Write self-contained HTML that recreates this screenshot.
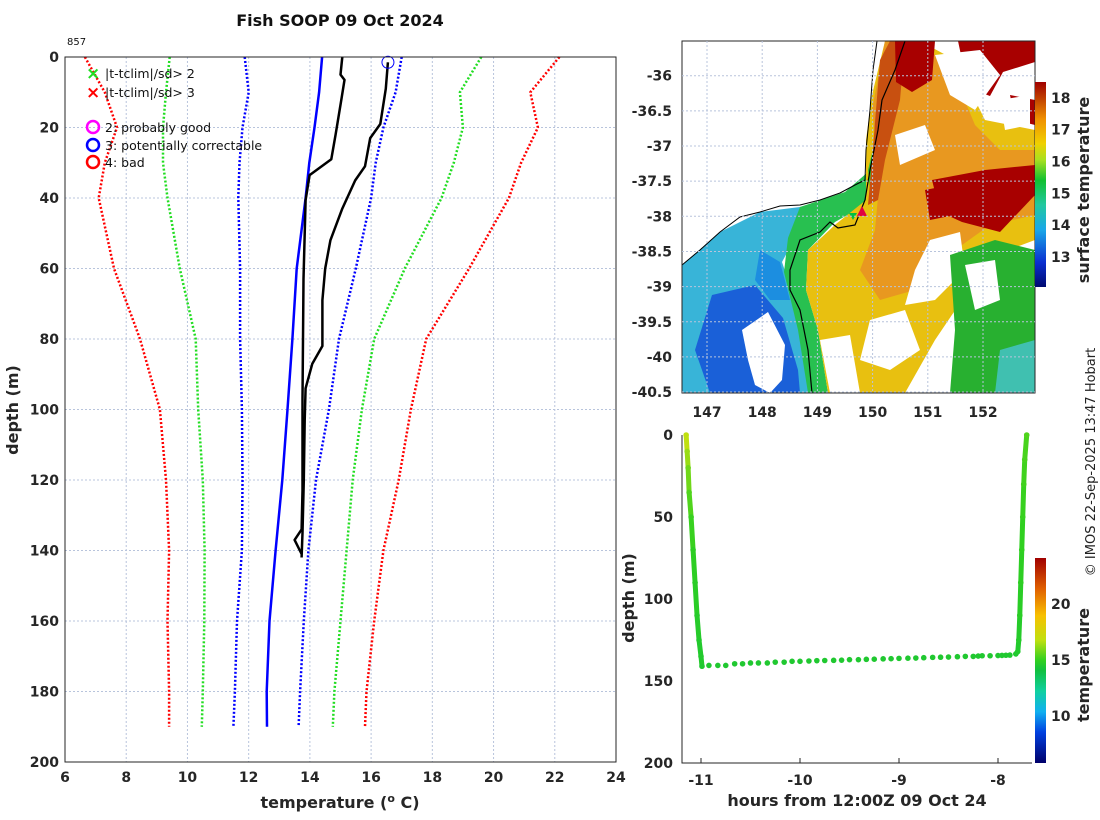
<!DOCTYPE html>
<html><head><meta charset="utf-8"><style>
body{margin:0;background:#fff;}
svg{display:block;font-family:"DejaVu Sans","Liberation Sans",sans-serif;}
.tk{font-size:14px;font-weight:bold;fill:#262626;}
.lab{font-size:16px;font-weight:bold;fill:#262626;}
.grid{stroke:#b8c4dc;stroke-width:1;stroke-dasharray:2,2;}
.leg{font-size:12.5px;fill:#111;}
</style></head><body>
<svg id="fig" width="1100" height="820" viewBox="0 0 1100 820">
<g id="main"></g>
<g id="map">
 <defs>
  <clipPath id="mapclip"><rect x="682" y="41" width="353" height="352"/></clipPath>
  <linearGradient id="sstcb" x1="0" y1="1" x2="0" y2="0">
   <stop offset="0" stop-color="#000a70"/><stop offset="0.12" stop-color="#0a2fd0"/><stop offset="0.28" stop-color="#1aa8e8"/><stop offset="0.4" stop-color="#22c8a0"/><stop offset="0.52" stop-color="#10c030"/><stop offset="0.62" stop-color="#a8e020"/><stop offset="0.7" stop-color="#f0d000"/><stop offset="0.82" stop-color="#f09000"/><stop offset="0.92" stop-color="#c04000"/><stop offset="1" stop-color="#a00000"/>
  </linearGradient>
  <linearGradient id="tcb" x1="0" y1="1" x2="0" y2="0">
   <stop offset="0" stop-color="#00006a"/><stop offset="0.15" stop-color="#0040e0"/><stop offset="0.25" stop-color="#10b0f0"/><stop offset="0.35" stop-color="#10d0a0"/><stop offset="0.45" stop-color="#10c040"/><stop offset="0.5" stop-color="#30d020"/><stop offset="0.6" stop-color="#c0e010"/><stop offset="0.72" stop-color="#f8c000"/><stop offset="0.85" stop-color="#e06000"/><stop offset="1" stop-color="#a00000"/>
  </linearGradient>
 </defs>
 <g clip-path="url(#mapclip)">
  <rect x="682" y="41" width="353" height="352" fill="#fff"/>
  <polygon fill="#38b4d8" points="682,265 720,232 760,212 800,207 840,196 855,200 820,218 795,238 782,262 792,292 804,330 812,393 682,393"/>
  <polygon fill="#1a60d8" points="712,295 755,285 783,318 798,370 800,393 710,393 695,350"/>
  <polygon fill="#1c8ee0" points="760,250 780,262 790,300 770,300 755,280"/>
  <polygon fill="#28c050" points="800,207 845,192 868,172 880,160 865,205 835,222 808,250 806,290 818,330 828,393 808,393 798,330 784,272 788,238"/>
  <polygon fill="#e8c010" points="866,140 872,95 885,41 920,41 955,60 985,120 1035,130 1035,240 995,255 962,300 935,340 905,393 828,393 818,330 806,290 808,250 836,224 866,200"/>
  <polygon fill="#e89820" points="872,110 885,41 920,41 952,70 975,125 1000,150 1035,150 1035,215 990,225 955,250 915,290 880,300 860,270 875,230 880,175"/>
  <polygon fill="#30c030" points="868,170 880,120 885,100 882,170 870,190"/>
  <polygon fill="#c85010" points="880,60 890,41 905,41 900,100 885,160 878,200 868,205 872,160"/>
  <polygon fill="#a80000" points="895,41 935,41 932,80 912,92 896,82"/>
  <polygon fill="#a80000" points="958,41 1035,41 1035,62 1003,72 990,96 968,88"/>
  <polygon fill="#a80000" points="1010,95 1035,100 1035,125 1015,120"/>
  <polygon fill="#a80000" points="932,180 985,170 1035,165 1035,195 1000,232 962,222 940,212"/>
  <polygon fill="#a80000" points="925,190 950,185 955,215 930,220"/>
  <polygon fill="#fff" points="935,55 980,50 1000,75 975,110 950,95"/>
  <polygon fill="#fff" points="1000,100 1030,95 1030,125 1005,130"/>
  <polygon fill="#fff" points="895,135 925,125 935,150 900,165"/>
  <polygon fill="#fff" points="930,240 960,232 965,270 935,300 905,305 915,270"/>
  <polygon fill="#28b030" points="950,255 995,240 1035,250 1035,393 950,393 955,330"/>
  <polygon fill="#40c0b0" points="1000,350 1035,340 1035,393 995,393"/>
  <polygon fill="#fff" points="965,265 995,260 1000,300 975,310"/>
  <polygon fill="#fff" points="870,320 905,310 920,350 890,370 860,360"/>
  <polygon fill="#fff" points="820,340 850,335 860,393 830,393"/>
  <polygon fill="#fff" points="742,330 768,312 785,345 782,380 770,393 755,385 748,360"/>
  <polyline fill="none" stroke="#000" stroke-width="1" points="682,265 700,250 720,232 740,217 760,212 780,206 800,205 820,200 840,193 855,185 865,180 866,150 870,110 873,70 877,41"/>
  <polyline fill="none" stroke="#000" stroke-width="1.2" points="905,41 895,70 882,100 878,130 870,170 865,200 855,225 838,228 830,222 820,232 800,240 790,270 790,290 800,310 808,350 812,393"/>
  <polygon fill="#e00040" points="862,206 857,216 867,216"/>
  <polygon fill="#00c040" points="853,220 849,213 857,213"/>
 </g>
 <rect x="682" y="41" width="353" height="352" fill="none" stroke="#262626" stroke-width="1"/>
 <g id="mapaxes"></g>
 <rect x="1035" y="82" width="11" height="205" fill="url(#sstcb)"/>
 <g id="sstcbticks"></g>
 <text class="lab" transform="translate(1089,190) rotate(-90)" text-anchor="middle">surface temperature</text>
</g>
<g id="bottom"></g>
<rect x="1035" y="558" width="11" height="205" fill="url(#tcb)"/>
<g id="tcbticks"></g>
<text class="lab" transform="translate(1089,665) rotate(-90)" text-anchor="middle">temperature</text>
<text transform="translate(1095,462) rotate(-90)" text-anchor="middle" style="font-size:13px;fill:#222">© IMOS 22-Sep-2025 13:47 Hobart</text>
<text x="340" y="26" text-anchor="middle" style="font-size:16px;font-weight:bold;fill:#111">Fish SOOP 09 Oct 2024</text>
<text x="67" y="45" style="font-size:10px;fill:#111">857</text>
</svg>
<script>
// ---- profile chart data ----
const blackADepth=[0,5,6.5,12,22,29,33.5,40.6,63,97,123,134,137,141];
const blackATemp=[15.06,15.0,15.13,15.03,14.84,14.7,13.99,13.86,13.79,13.76,13.76,13.73,13.5,13.73];
const blackBDepth=[1.5,9,19,23,31,35,43,52,60,69,82,87,94,103,120,135,142];
const blackBTemp=[16.55,16.48,16.3,15.97,15.8,15.48,15.06,14.67,14.5,14.41,14.41,14.08,13.86,13.83,13.8,13.76,13.73];
const blueDepth=[0,10,20,30,40,60,80,100,120,140,160,180,190];
const blueTemp=[14.4,14.3,14.15,13.98,13.86,13.57,13.43,13.27,13.1,12.88,12.68,12.59,12.6];
const climDepth=[0,10,20,30,40,60,80,100,120,140,160,180,190];
const blueLoTemp=[11.87,12.0,11.8,11.7,11.66,11.72,11.72,11.78,11.8,11.78,11.62,11.55,11.5];
const blueHiTemp=[17.0,16.8,16.4,16.15,16.0,15.5,14.95,14.62,14.2,13.95,13.8,13.68,13.63];
const greenLoTemp=[9.42,9.3,9.2,9.2,9.35,9.75,10.27,10.35,10.5,10.56,10.55,10.5,10.47];
const greenHiTemp=[19.6,18.9,19.0,18.7,18.3,17.1,16.1,15.7,15.4,15.2,15.0,14.8,14.75];
const redLoTemp=[6.65,7.3,7.7,7.3,7.1,7.6,8.45,9.1,9.3,9.4,9.35,9.4,9.4];
const redHiTemp=[22.15,21.2,21.45,20.9,20.5,19.2,17.8,17.3,16.9,16.4,16.1,15.85,15.8];
const xTicks=[6,8,10,12,14,16,18,20,22,24];
const yTicks=[0,20,40,60,80,100,120,140,160,180,200];
// ---- map axes ----
const lonTicks=[147,148,149,150,151,152];
const latTicks=[-36,-36.5,-37,-37.5,-38,-38.5,-39,-39.5,-40,-40.5];
const sstTicks=[13,14,15,16,17,18];
// ---- bottom chart data ----
const castHours=[-11.15,-11.14,-11.13,-11.12,-11.10,-11.08,-11.06,-11.04,-11.02,-11.0,-10.99,-10.92,-10.83,-10.75,-10.66,-10.58,-10.5,-10.42,-10.33,-10.25,-10.16,-10.08,-10.0,-9.91,-9.83,-9.75,-9.66,-9.58,-9.5,-9.41,-9.33,-9.25,-9.16,-9.08,-9.0,-8.91,-8.83,-8.75,-8.66,-8.58,-8.5,-8.41,-8.33,-8.25,-8.2,-8.16,-8.08,-8.0,-7.96,-7.92,-7.88,-7.82,-7.80,-7.79,-7.78,-7.77,-7.76,-7.75,-7.74,-7.73,-7.71];
const castDepth=[0,10,20,35,50,70,90,110,125,135,141,140.5,140.5,140.5,139.5,139.5,139,139,139,138.5,138.5,138,138,137.8,137.6,137.5,137.4,137.3,137,137,136.8,136.7,136.5,136.4,136.2,136.1,136,135.8,135.6,135.5,135.4,135.2,135,135,134.8,134.6,134.6,134.5,134.4,134.3,134.2,133.5,132,125,110,90,70,50,30,15,0];
const castTemp=[16.8,16.3,15.8,15.4,15.1,14.9,14.8,14.7,14.6,14.6,14.5,14.5,14.5,14.5,14.5,14.5,14.5,14.5,14.5,14.5,14.5,14.5,14.5,14.5,14.5,14.5,14.5,14.5,14.5,14.5,14.5,14.5,14.5,14.5,14.5,14.5,14.5,14.5,14.5,14.5,14.5,14.5,14.5,14.5,14.5,14.5,14.5,14.5,14.5,14.5,14.5,14.5,14.6,14.7,14.8,14.9,15.0,15.1,15.2,15.3,15.4];
const hourTicks=[-11,-10,-9,-8];
const depthTicks2=[0,50,100,150,200];
const tTicks=[10,15,20];

const NS='http://www.w3.org/2000/svg';
function mk(parent,tag,attrs,text){const e=document.createElementNS(NS,tag);for(const k in attrs)e.setAttribute(k,attrs[k]);if(text!==undefined)e.textContent=text;parent.appendChild(e);return e;}

const mx0=65,mx1=616,my0=57,my1=762;
const X=t=>mx0+(t-6)/(24-6)*(mx1-mx0);
const Y=d=>my0+d/200*(my1-my0);
const main=document.getElementById('main');
xTicks.forEach(t=>{
  if(t>6&&t<24){const g=mk(main,'line',{x1:X(t),x2:X(t),y1:my0,y2:my1,class:'grid'});
  
  }
  const l=mk(main,'text',{x:X(t),y:my1+20,class:'tk','text-anchor':'middle'},String(t));
  
  
});
yTicks.forEach(d=>{
  if(d>0&&d<200){const g=mk(main,'line',{x1:mx0,x2:mx1,y1:Y(d),y2:Y(d),class:'grid'});
  
  }
  const l=mk(main,'text',{x:mx0-6,y:Y(d)+5,class:'tk','text-anchor':'end'},String(d));
  
  
});
function line(par,temps,depths,color,w,dash,name){
  const p=temps.map((t,i)=>X(t).toFixed(1)+','+Y(depths[i]).toFixed(1)).join(' ');
  const e=mk(par,'polyline',{points:p,fill:'none',stroke:color,'stroke-width':w,'stroke-linejoin':'round'});
  if(dash)e.setAttribute('stroke-dasharray',dash);
  
  
}
line(main,redLoTemp,climDepth,'#ff0000',2.5,'2,2','clim-minus-3sd');
line(main,redHiTemp,climDepth,'#ff0000',2.5,'2,2','clim-plus-3sd');
line(main,greenLoTemp,climDepth,'#22dd22',2.5,'2,2','clim-minus-2sd');
line(main,greenHiTemp,climDepth,'#22dd22',2.5,'2,2','clim-plus-2sd');
line(main,blueLoTemp,climDepth,'#0000ff',2.5,'2,2','clim-minus-1sd');
line(main,blueHiTemp,climDepth,'#0000ff',2.5,'2,2','clim-plus-1sd');
line(main,blueTemp,blueDepth,'#0000ff',2.5,null,'climatology-mean');
line(main,blackATemp,blackADepth,'#000',2.5,null,'profile-a');
line(main,blackBTemp,blackBDepth,'#000',2.5,null,'profile-b');
const fc=mk(main,'circle',{cx:X(blackBTemp[0]),cy:Y(blackBDepth[0]),r:6,fill:'none',stroke:'#0000ff','stroke-width':1});


const fr=mk(main,'rect',{x:mx0,y:my0,width:mx1-mx0,height:my1-my0,fill:'none',stroke:'#262626','stroke-width':1});


const xl=mk(main,'text',{x:340,y:808,class:'lab','text-anchor':'middle'},'temperature (');


mk(xl,'tspan',{dy:-6,'font-size':11},'o');
mk(xl,'tspan',{dy:6},' C)');
const yl=mk(main,'text',{class:'lab','text-anchor':'middle',transform:'translate(18,410) rotate(-90)'},'depth (m)');


const legG=mk(main,'g',{});


[['#22dd22','|t-tclim|/sd> 2',73],['#ff0000','|t-tclim|/sd> 3',92]].forEach(a=>{
  const e=mk(legG,'text',{x:86,y:a[2]+6,style:'font-size:17px;font-weight:bold;fill:'+a[0]},'×');
  
  
  const t=mk(legG,'text',{x:105,y:a[2]+5,class:'leg'},a[1]);
  
  
});
[['#ff00ff','2: probably good',127],['#0000ff','3: potentially correctable',145],['#ff0000','4: bad',162]].forEach(a=>{
  const c=mk(legG,'circle',{cx:93,cy:a[2],r:6,fill:'none',stroke:a[0],'stroke-width':2.5});
  
  
  const t=mk(legG,'text',{x:105,y:a[2]+5,class:'leg'},a[1]);
  
  
});

const mapAx=document.getElementById('mapaxes');
const LX=l=>707+(l-147)*55.2;
const LY=l=>75.7+(-36-l)*70.3;
lonTicks.forEach(l=>{
  const g=mk(mapAx,'line',{x1:LX(l),x2:LX(l),y1:41,y2:393,class:'grid'});
  
  
  const t=mk(mapAx,'text',{x:LX(l),y:417,class:'tk','text-anchor':'middle'},String(l));
  
  
});
latTicks.forEach(l=>{
  const g=mk(mapAx,'line',{x1:682,x2:1035,y1:LY(l),y2:LY(l),class:'grid'});
  
  
  const t=mk(mapAx,'text',{x:672,y:LY(l)+5,class:'tk','text-anchor':'end'},String(l));
  
  
});
const sstG=document.getElementById('sstcbticks');
sstTicks.forEach(v=>{
  const y=287-(v-12.06)/(18.5-12.06)*205;
  const t=mk(sstG,'text',{x:1051,y:y+5,class:'tk'},String(v));
  
  
});

const bx0=682,bx1=1032,by0=435,by1=763;
const HX=h=>701+(h+11)*99;
const DY=d=>by0+d/200*(by1-by0);
const bot=document.getElementById('bottom');
const tmin=5.8,tmax=24.1;
const stops=[[5.8,[0,0,106]],[8.5,[0,64,224]],[10.4,[16,176,240]],[12.2,[16,208,160]],[14.0,[16,192,64]],[15.0,[48,208,32]],[16.8,[192,224,16]],[19,[248,192,0]],[21.4,[224,96,0]],[24.1,[160,0,0]]];
function col(t){for(let i=0;i<stops.length-1;i++){const a=stops[i],b=stops[i+1];if(t<=b[0]){const f=Math.max(0,(t-a[0])/(b[0]-a[0]));return 'rgb('+a[1].map((v,k)=>Math.round(v+(b[1][k]-v)*f)).join(',')+')';}}return 'rgb(160,0,0)';}
hourTicks.forEach(h=>{
  const t=mk(bot,'text',{x:HX(h),y:by1+22,class:'tk','text-anchor':'middle'},String(h));
  
  
  const k=mk(bot,'line',{x1:HX(h),x2:HX(h),y1:by1,y2:by1-5,stroke:'#262626'});
  
  
});
depthTicks2.forEach(d=>{
  const t=mk(bot,'text',{x:bx0-9,y:DY(d)+5,class:'tk','text-anchor':'end'},String(d));
  
  
});
for(let i=0;i<castHours.length-1;i++){
  if(i>=10&&i<51)continue;
  const s=mk(bot,'line',{x1:HX(castHours[i]),y1:DY(castDepth[i]),x2:HX(castHours[i+1]),y2:DY(castDepth[i+1]),stroke:col(castTemp[i]),'stroke-width':5,'stroke-linecap':'round'});
  
  
}
castHours.forEach((h,i)=>{
  const c=mk(bot,'circle',{cx:HX(h),cy:DY(castDepth[i]),r:2.8,fill:col(castTemp[i])});
  
  
});
const bf=mk(bot,'polyline',{points:`${bx0},${by0} ${bx0},${by1} ${bx1},${by1}`,fill:'none',stroke:'#262626','stroke-width':1});


const bxl=mk(bot,'text',{x:857,y:806,class:'lab','text-anchor':'middle'},'hours from 12:00Z 09 Oct 24');


const byl=mk(bot,'text',{class:'lab','text-anchor':'middle',transform:'translate(634,598) rotate(-90)'},'depth (m)');


const tcbG=document.getElementById('tcbticks');
tTicks.forEach(v=>{
  const y=763-(v-tmin)/(tmax-tmin)*205;
  const t=mk(tcbG,'text',{x:1051,y:y+5,class:'tk'},String(v));
  
  
});
</script>
</body></html>
